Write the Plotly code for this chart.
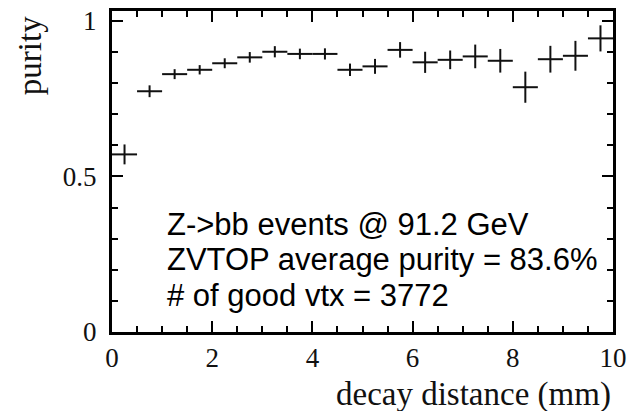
import plotly.graph_objects as go

# Bin centers (decay distance, mm), purity values, errors
bin_centers = [0.25, 0.75, 1.25, 1.75, 2.25, 2.75, 3.25, 3.75, 4.25, 4.75,
               5.25, 5.75, 6.25, 6.75, 7.25, 7.75, 8.25, 8.75, 9.25, 9.75]
purity = [0.571, 0.774, 0.829, 0.843, 0.864, 0.883, 0.901, 0.894, 0.894, 0.843,
          0.854, 0.907, 0.867, 0.875, 0.886, 0.872, 0.787, 0.877, 0.888, 0.944]
purity_err = [0.032, 0.019, 0.016, 0.015, 0.016, 0.017, 0.018, 0.017, 0.018, 0.020,
              0.024, 0.025, 0.034, 0.030, 0.038, 0.038, 0.050, 0.043, 0.048, 0.042]
bin_half_width = [0.25] * 20

x_tickvals = [0, 2, 4, 6, 8, 10]
x_ticktext = ["0", "2", "4", "6", "8", "10"]
y_tickvals = [0, 0.5, 1]
y_ticktext = ["0", "0.5", "1"]

info_lines = ["Z->bb events @ 91.2 GeV",
              "ZVTOP average purity = 83.6%",
              "# of good vtx = 3772"]

fig = go.Figure()
fig.add_trace(go.Scatter(
    x=bin_centers, y=purity, mode="markers",
    marker=dict(size=1, color="#111"),
    error_x=dict(type="data", array=bin_half_width, width=0, thickness=2, color="#111"),
    error_y=dict(type="data", array=purity_err, width=0, thickness=2, color="#111"),
    showlegend=False,
))

serif = "Liberation Serif, Times New Roman, serif"
sans = "Liberation Sans, Arial, sans-serif"

axis_common = dict(
    showline=True, linewidth=3, linecolor="black", mirror="ticks",
    ticks="inside", tickwidth=2, tickcolor="black", ticklen=11,
    showgrid=False, zeroline=False,
    tickfont=dict(family=serif, size=27, color="#111"),
)

fig.update_xaxes(
    range=[0, 10], tickmode="array", tickvals=x_tickvals, ticktext=x_ticktext,
    minor=dict(ticks="inside", dtick=0.5, ticklen=6, tickwidth=2, tickcolor="black", showgrid=False),
    ticklabelstandoff=0,
    **axis_common,
)
fig.update_yaxes(
    range=[0, 1.032], tickmode="array", tickvals=y_tickvals, ticktext=y_ticktext,
    minor=dict(ticks="inside", dtick=0.1, ticklen=6, tickwidth=2, tickcolor="black", showgrid=False),
    ticklabelstandoff=7,
    **axis_common,
)

ann_y = [0.346, 0.232, 0.116]
for txt, yy in zip(info_lines, ann_y):
    fig.add_annotation(x=1.06, y=yy, xref="x", yref="y", text=txt, showarrow=False,
                       xanchor="left", yanchor="middle",
                       font=dict(family=sans, size=31, color="black"))

fig.add_annotation(x=-0.164, y=0.862, xref="paper", yref="paper", text="purity",
                   showarrow=False, textangle=-90, xanchor="center", yanchor="middle",
                   font=dict(family=serif, size=33, color="#111"))
fig.add_annotation(x=1.0, y=-0.195, xref="paper", yref="paper", text="decay distance (mm)",
                   showarrow=False, xanchor="right", yanchor="middle",
                   font=dict(family=serif, size=33, color="#111"))

fig.update_layout(
    width=635, height=411,
    margin=dict(l=112, r=22, t=7, b=79),
    paper_bgcolor="white", plot_bgcolor="white",
)

fig.write_html("out.html")
